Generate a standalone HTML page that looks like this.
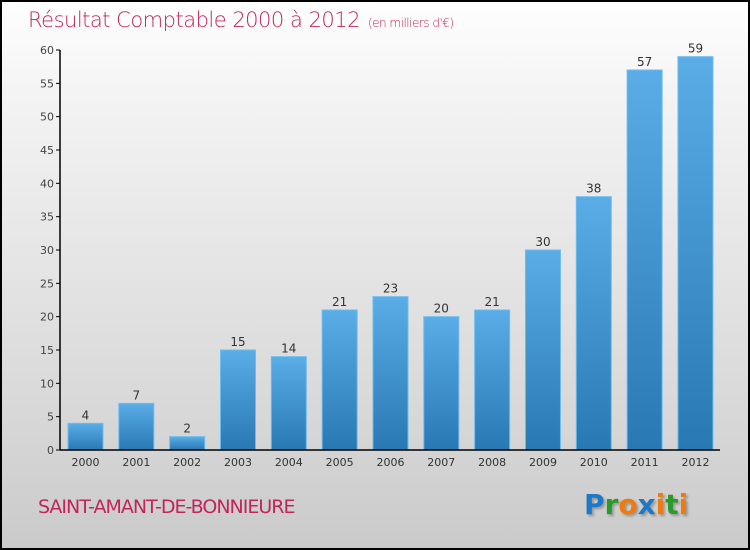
<!DOCTYPE html>
<html><head><meta charset="utf-8"><style>
html,body{margin:0;padding:0}
body{width:750px;height:550px;overflow:hidden}
#wrap{position:relative;width:746px;height:546px;border:2px solid #000;background:linear-gradient(#fefefe,#f2f2f2 20%,#d8d8d8 75%,#cacaca);font-family:"DejaVu Sans","Liberation Sans",sans-serif}
#title{position:absolute;left:26px;top:6px;font-size:21px;color:#c2255c;font-weight:300;letter-spacing:-0.5px}
#title span{font-size:12px;margin-left:8px}
#city{position:absolute;left:36px;top:494px;font-size:19px;color:#c2255c;letter-spacing:-1px}
#logo{position:absolute;left:582px;top:486px;font-size:28px;font-family:"DejaVu Sans",sans-serif;font-weight:bold;text-shadow:2px 2px 2px #999}
</style></head><body>
<div id="wrap">
<div id="title">Résultat Comptable 2000 à 2012<span>(en milliers d'€)</span></div>
<svg id="chart" width="746" height="546" style="position:absolute;left:0;top:0">
<defs><linearGradient id="bg" x1="0" y1="0" x2="0" y2="1"><stop offset="0" stop-color="#5aade6"/><stop offset="1" stop-color="#2878b4"/></linearGradient></defs>
<g id="g"></g>
</svg>
<div id="city">SAINT-AMANT-DE-BONNIEURE</div>
<div id="logo"><span style="color:#1e78c8">P</span><span style="color:#2a9a2a">r</span><span style="color:#f07a10">o</span><span style="color:#1e78c8">x</span><span style="color:#f07a10">i</span><span style="color:#2a9a2a">t</span><span style="color:#f07a10">i</span></div>
</div>
<script>
const categories=["2000","2001","2002","2003","2004","2005","2006","2007","2008","2009","2010","2011","2012"];
const values=[4,7,2,15,14,21,23,20,21,30,38,57,59];
const yTicks=[0,5,10,15,20,25,30,35,40,45,50,55,60];
const ox=-2,oy=-2;
const x0=60+ox,x1=720+ox,yB=450+oy,yT=50+oy;
const y=v=>yB-(v/60)*(yB-yT);
const step=50.83,first=85.5+ox;
const xc=i=>first+i*step;
const g=document.getElementById('g');
const NS='http://www.w3.org/2000/svg';
function mk(t,a,txt){const e=document.createElementNS(NS,t);for(const k in a)e.setAttribute(k,a[k]);if(txt!=null)e.textContent=txt;g.appendChild(e);return e;}
yTicks.forEach(v=>{
 const l=mk('line',{x1:x0-4,x2:x0,y1:y(v),y2:y(v),stroke:'#000'});
 
 
 const t=mk('text',{x:x0-6,y:y(v)+4,'text-anchor':'end','font-size':11,fill:'#444'},v);
 
 
});
values.forEach((v,i)=>{
 const r=mk('rect',{x:xc(i)-17.5,y:y(v),width:35,height:yB-y(v),fill:'url(#bg)',stroke:'#6cbcf0','stroke-width':1});
 
 
 const t=mk('text',{x:xc(i),y:y(v)-4,'text-anchor':'middle','font-size':12,fill:'#333'},v);
 
 
 const c=mk('text',{x:xc(i),y:yB+16,'text-anchor':'middle','font-size':11,fill:'#333'},categories[i]);
 
 
});
const ax=mk('line',{x1:x0,x2:x0,y1:yT,y2:yB,stroke:'#000','stroke-width':1.5});


const bx=mk('line',{x1:x0,x2:x1,y1:yB,y2:yB,stroke:'#000','stroke-width':1.5});


</script>
</body></html>
